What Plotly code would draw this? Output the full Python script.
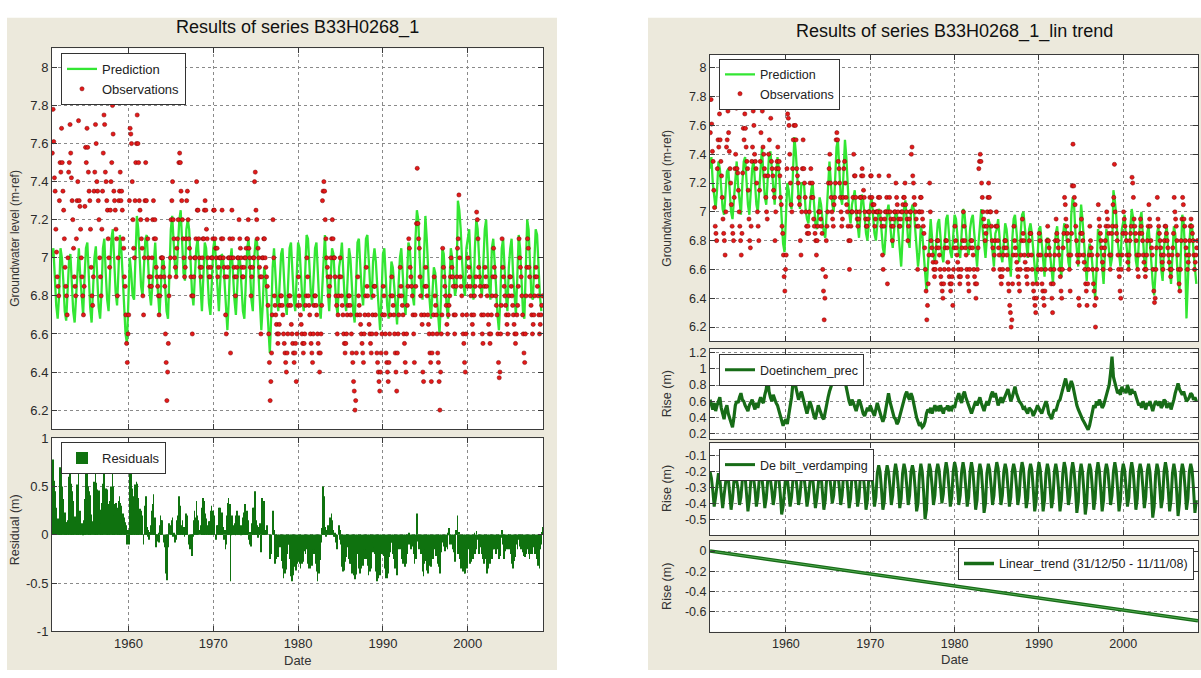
import plotly.graph_objects as go

W, H = 1201, 678
FONT = "Liberation Sans, Arial, sans-serif"

# ---------------- data ----------------
first_year = 1951
obs_per_year = 12        # one reading per month (mid-month)
model_per_year = 6       # model output every two months

# observed groundwater level (m-ref), 1951 .. Oct 2008
obs_values = [
    7.55, 7.78, 7.61, 7.42, 7.35, 7.15, 7.03, 6.90, 6.85, 6.80, 7.30, 7.50,  # 1951
    7.45, 7.68, 7.50, 7.35, 7.25, 7.10, 6.95, 6.85, 6.80, 6.70, 7.00, 7.45,  # 1952
    7.50, 7.70, 7.55, 7.42, 7.30, 7.20, 7.05, 6.90, 6.85, 6.80, 7.10, 7.30,  # 1953
    7.40, 7.72, 7.30, 7.27, 7.15, 7.00, 6.90, 6.80, 6.70, 6.85, 7.27, 7.58,  # 1954
    7.50, 7.68, 7.58, 7.45, 7.35, 7.30, 7.15, 6.95, 6.80, 6.75, 6.90, 7.35,  # 1955
    7.45, 7.70, 7.60, 7.40, 7.35, 7.30, 7.20, 7.00, 6.90, 6.80, 7.15, 7.35,  # 1956
    7.55, 7.75, 7.70, 7.45, 7.40, 7.30, 7.25, 7.10, 7.00, 6.95, 7.25, 7.40,  # 1957
    7.50, 7.80, 7.65, 7.35, 7.30, 7.25, 7.15, 7.10, 6.80, 7.00, 7.30, 7.35,  # 1958
    7.45, 7.30, 7.35, 7.25, 7.10, 7.05, 6.90, 6.85, 6.70, 6.55, 6.45, 6.60,  # 1959
    6.70, 7.30, 7.68, 7.65, 7.60, 7.40, 7.20, 7.05, 7.00, 7.30, 7.50, 7.60,  # 1960
    7.75, 7.60, 7.50, 7.30, 7.25, 7.20, 7.10, 7.05, 6.80, 6.70, 7.00, 7.30,  # 1961
    7.50, 7.30, 7.20, 7.10, 7.00, 6.90, 6.85, 6.90, 6.85, 7.00, 7.20, 7.30,  # 1962
    7.10, 7.20, 7.10, 6.95, 6.90, 6.85, 6.80, 6.70, 6.80, 6.90, 7.00, 7.00,  # 1963
    7.00, 6.95, 6.90, 6.85, 6.60, 6.45, 6.25, 6.40, 6.55, 6.80, 6.90, 7.00,  # 1964
    7.20, 7.30, 7.40, 7.20, 7.10, 7.00, 6.95, 6.90, 7.05, 7.10, 7.20, 7.50,  # 1965
    7.55, 7.50, 7.35, 7.30, 7.20, 7.10, 7.00, 6.90, 6.95, 7.10, 7.30, 7.35,  # 1966
    7.20, 7.10, 7.05, 7.00, 6.90, 6.80, 6.60, 6.80, 6.90, 7.00, 7.00, 7.10,  # 1967
    7.40, 7.25, 7.25, 7.10, 7.00, 6.95, 6.90, 6.95, 7.00, 7.10, 7.10, 7.25,  # 1968
    7.30, 7.25, 7.15, 7.10, 7.00, 6.95, 6.90, 6.90, 6.95, 7.00, 7.00, 7.10,  # 1969
    7.25, 7.25, 7.10, 7.05, 7.00, 7.05, 6.90, 6.95, 7.00, 7.00, 7.00, 7.10,  # 1970
    7.25, 7.10, 7.00, 6.95, 6.90, 6.70, 6.60, 6.90, 6.95, 7.00, 7.00, 7.10,  # 1971
    6.50, 7.00, 7.25, 7.10, 7.00, 6.95, 6.90, 6.80, 6.90, 6.95, 7.00, 7.00,  # 1972
    7.20, 7.10, 7.05, 7.00, 6.95, 6.90, 6.90, 6.95, 7.00, 7.00, 7.05, 7.10,  # 1973
    7.10, 7.20, 7.05, 7.00, 6.95, 6.80, 6.90, 6.95, 7.00, 7.00, 7.40, 7.45,  # 1974
    7.25, 7.20, 7.10, 7.05, 7.00, 6.95, 6.90, 6.60, 6.90, 7.00, 7.00, 7.10,  # 1975
    7.10, 7.00, 6.95, 6.90, 6.85, 6.75, 6.60, 6.45, 6.25, 6.35, 6.50, 6.70,  # 1976
    7.20, 7.00, 6.80, 6.75, 6.70, 6.65, 6.60, 6.55, 6.60, 6.65, 6.75, 6.80,  # 1977
    6.80, 6.75, 6.70, 6.60, 6.55, 6.50, 6.45, 6.40, 6.50, 6.60, 6.75, 6.80,  # 1978
    6.80, 6.75, 6.65, 6.60, 6.55, 6.50, 6.45, 6.50, 6.55, 6.35, 6.60, 6.75,  # 1979
    6.90, 6.80, 6.75, 6.70, 6.65, 6.60, 6.55, 6.50, 6.55, 6.60, 6.75, 6.80,  # 1980
    7.00, 6.90, 6.80, 6.75, 6.70, 6.60, 6.55, 6.50, 6.45, 6.60, 6.75, 6.80,  # 1981
    6.80, 6.75, 6.70, 6.60, 6.55, 6.50, 6.40, 6.50, 6.60, 6.75, 7.30, 7.35,  # 1982
    7.40, 7.35, 7.20, 7.10, 7.00, 6.95, 6.90, 6.80, 6.85, 6.90, 7.00, 7.10,  # 1983
    7.20, 7.10, 7.00, 7.00, 6.90, 6.80, 6.75, 6.60, 6.70, 6.80, 6.90, 7.00,  # 1984
    6.90, 6.80, 6.75, 6.70, 6.60, 6.55, 6.50, 6.55, 6.60, 6.70, 6.75, 6.80,  # 1985
    6.80, 6.75, 6.70, 6.60, 6.50, 6.45, 6.35, 6.30, 6.20, 6.25, 6.50, 6.70,  # 1986
    6.90, 6.80, 6.75, 6.70, 6.65, 6.60, 6.55, 6.50, 6.45, 6.60, 6.70, 6.80,  # 1987
    6.95, 6.85, 6.80, 6.70, 6.65, 6.60, 6.55, 6.50, 6.60, 6.70, 6.80, 6.85,  # 1988
    6.85, 6.70, 6.60, 6.50, 6.45, 6.40, 6.35, 6.30, 6.40, 6.50, 6.60, 6.70,  # 1989
    6.85, 6.80, 6.70, 6.60, 6.50, 6.45, 6.40, 6.35, 6.45, 6.60, 6.70, 6.80,  # 1990
    6.90, 6.80, 6.75, 6.70, 6.60, 6.50, 6.40, 6.30, 6.50, 6.60, 6.70, 6.80,  # 1991
    6.95, 6.85, 6.80, 6.75, 6.70, 6.60, 6.55, 6.45, 6.40, 6.60, 6.75, 6.85,  # 1992
    7.10, 7.05, 6.95, 6.90, 6.85, 6.80, 6.70, 6.60, 6.45, 6.70, 6.85, 7.18,  # 1993
    7.47, 7.18, 7.10, 7.05, 6.90, 6.80, 6.70, 6.65, 6.40, 6.35, 6.70, 6.85,  # 1994
    6.95, 6.85, 6.80, 6.70, 6.65, 6.60, 6.50, 6.45, 6.35, 6.50, 6.60, 6.70,  # 1995
    6.90, 6.80, 6.75, 6.70, 6.60, 6.50, 6.45, 6.35, 6.20, 6.40, 6.60, 6.70,  # 1996
    7.05, 6.95, 6.90, 6.85, 6.80, 6.75, 6.65, 6.60, 6.70, 6.75, 6.80, 6.90,  # 1997
    7.00, 6.95, 6.90, 6.85, 6.70, 6.60, 6.70, 6.85, 6.90, 7.05, 7.10, 7.33,  # 1998
    7.00, 6.90, 6.85, 6.80, 6.70, 6.60, 6.55, 6.45, 6.40, 6.60, 6.70, 6.85,  # 1999
    7.00, 6.95, 6.90, 6.85, 6.80, 6.70, 6.65, 6.60, 6.70, 6.80, 6.85, 6.90,  # 2000
    7.24, 7.20, 7.10, 6.95, 6.90, 6.85, 6.80, 6.70, 6.60, 6.55, 6.70, 6.85,  # 2001
    6.95, 6.90, 6.85, 6.80, 6.70, 6.65, 6.60, 6.55, 6.60, 6.70, 6.80, 6.90,  # 2002
    7.05, 6.95, 6.90, 6.80, 6.75, 6.70, 6.60, 6.45, 6.37, 6.40, 6.60, 6.75,  # 2003
    7.10, 6.95, 6.90, 6.85, 6.80, 6.75, 6.70, 6.65, 6.60, 6.70, 6.80, 6.90,  # 2004
    6.90, 6.85, 6.80, 6.75, 6.70, 6.65, 6.60, 6.55, 6.60, 6.70, 6.75, 6.85,  # 2005
    7.10, 7.00, 6.95, 6.90, 6.80, 6.70, 6.60, 6.50, 6.45, 6.60, 6.80, 6.95,  # 2006
    7.10, 7.05, 6.95, 6.90, 6.80, 6.75, 6.70, 6.60, 6.65, 6.70, 6.80, 6.90,  # 2007
    6.95, 6.90, 6.85, 6.80, 6.70, 6.60, 6.65, 6.70, 6.75, 6.80,              # 2008
]

# model without trend (left panel), Jan/Mar/May/Jul/Sep/Nov
pred_left = [
    7.00, 7.05, 6.90, 6.75, 6.68, 6.80,  # 1951
    7.05, 7.00, 6.88, 6.72, 6.67, 6.85,  # 1952
    6.98, 7.02, 6.85, 6.72, 6.66, 6.78,  # 1953
    6.95, 7.05, 6.90, 6.78, 6.70, 6.90,  # 1954
    7.05, 7.08, 6.90, 6.74, 6.66, 6.80,  # 1955
    7.00, 7.06, 6.88, 6.74, 6.68, 6.82,  # 1956
    7.05, 7.10, 6.92, 6.78, 6.72, 6.90,  # 1957
    7.10, 7.15, 6.98, 6.82, 6.75, 6.95,  # 1958
    7.12, 7.05, 6.88, 6.72, 6.60, 6.55,  # 1959
    6.80, 7.00, 6.92, 6.80, 6.78, 7.05,  # 1960
    7.22, 7.15, 6.98, 6.85, 6.80, 7.00,  # 1961
    7.10, 7.12, 6.95, 6.82, 6.75, 6.88,  # 1962
    7.02, 7.08, 6.92, 6.78, 6.70, 6.85,  # 1963
    7.00, 6.98, 6.85, 6.72, 6.68, 6.90,  # 1964
    7.15, 7.22, 7.08, 6.95, 6.90, 7.10,  # 1965
    7.20, 7.25, 7.05, 6.92, 6.88, 7.15,  # 1966
    7.20, 7.15, 6.98, 6.82, 6.75, 6.92,  # 1967
    7.05, 7.10, 6.95, 6.80, 6.72, 6.90,  # 1968
    7.08, 7.05, 6.90, 6.76, 6.70, 6.85,  # 1969
    7.05, 7.10, 6.95, 6.80, 6.72, 6.88,  # 1970
    7.02, 7.00, 6.85, 6.70, 6.62, 6.78,  # 1971
    6.98, 7.05, 6.90, 6.78, 6.70, 6.88,  # 1972
    7.00, 6.98, 6.85, 6.72, 6.68, 6.85,  # 1973
    7.05, 7.10, 6.92, 6.78, 6.72, 7.00,  # 1974
    7.10, 7.08, 6.92, 6.78, 6.62, 6.75,  # 1975
    6.95, 6.90, 6.75, 6.60, 6.50, 6.70,  # 1976
    6.95, 7.05, 6.90, 6.78, 6.72, 6.88,  # 1977
    7.02, 7.05, 6.90, 6.76, 6.70, 6.85,  # 1978
    7.05, 7.08, 6.92, 6.78, 6.72, 6.90,  # 1979
    7.08, 7.05, 6.90, 6.78, 6.72, 6.95,  # 1980
    7.12, 7.10, 6.95, 6.82, 6.75, 6.95,  # 1981
    7.05, 7.08, 6.90, 6.76, 6.68, 6.85,  # 1982
    7.00, 7.12, 6.95, 6.80, 6.72, 6.88,  # 1983
    7.05, 7.02, 6.88, 6.75, 6.70, 6.95,  # 1984
    7.00, 7.08, 6.92, 6.78, 6.72, 6.88,  # 1985
    7.05, 7.00, 6.85, 6.72, 6.66, 6.90,  # 1986
    7.08, 7.10, 6.95, 6.82, 6.75, 6.95,  # 1987
    7.10, 7.12, 6.98, 6.85, 6.78, 6.98,  # 1988
    7.05, 6.98, 6.85, 6.72, 6.62, 6.80,  # 1989
    7.02, 7.05, 6.90, 6.75, 6.68, 6.88,  # 1990
    6.98, 6.95, 6.85, 6.72, 6.65, 6.85,  # 1991
    7.00, 7.05, 6.90, 6.78, 6.70, 6.95,  # 1992
    7.08, 7.05, 6.92, 6.80, 6.75, 7.10,  # 1993
    7.25, 7.20, 7.00, 6.85, 6.78, 7.00,  # 1994
    7.22, 7.10, 6.92, 6.78, 6.68, 6.85,  # 1995
    6.95, 6.92, 6.80, 6.68, 6.60, 6.78,  # 1996
    7.05, 7.02, 6.88, 6.75, 6.68, 6.90,  # 1997
    7.05, 7.00, 6.88, 6.80, 6.85, 7.30,  # 1998
    7.25, 7.15, 6.98, 6.85, 6.80, 7.05,  # 1999
    7.10, 7.15, 6.98, 6.85, 6.78, 7.05,  # 2000
    7.20, 7.15, 6.98, 6.85, 6.80, 7.00,  # 2001
    7.15, 7.20, 7.00, 6.85, 6.78, 7.05,  # 2002
    7.10, 7.00, 6.85, 6.70, 6.62, 6.78,  # 2003
    7.05, 7.10, 6.92, 6.80, 6.72, 6.95,  # 2004
    7.05, 7.10, 6.92, 6.78, 6.70, 6.90,  # 2005
    7.12, 7.05, 6.88, 6.72, 6.68, 7.00,  # 2006
    7.20, 7.15, 6.95, 6.80, 6.78, 7.00,  # 2007
    7.15, 7.12, 6.95, 6.80, 6.72,        # 2008
]

# model with linear trend (right panel)
pred_right = [
    7.30, 7.38, 7.20, 7.08, 7.02, 7.15,  # 1951
    7.35, 7.30, 7.15, 7.02, 6.98, 7.18,  # 1952
    7.28, 7.30, 7.12, 7.00, 6.95, 7.08,  # 1953
    7.25, 7.35, 7.18, 7.05, 6.98, 7.20,  # 1954
    7.35, 7.38, 7.20, 7.05, 6.98, 7.12,  # 1955
    7.30, 7.36, 7.18, 7.05, 7.00, 7.15,  # 1956
    7.35, 7.45, 7.25, 7.10, 7.05, 7.22,  # 1957
    7.40, 7.42, 7.28, 7.12, 7.05, 7.25,  # 1958
    7.38, 7.30, 7.10, 6.95, 6.78, 6.72,  # 1959
    6.95, 7.20, 7.15, 7.05, 7.02, 7.30,  # 1960
    7.52, 7.42, 7.22, 7.10, 7.02, 7.20,  # 1961
    7.20, 7.18, 7.02, 6.95, 6.92, 7.05,  # 1962
    7.15, 7.20, 7.05, 6.92, 6.88, 7.00,  # 1963
    7.10, 7.05, 6.95, 6.85, 6.82, 7.00,  # 1964
    7.25, 7.35, 7.20, 7.05, 7.00, 7.20,  # 1965
    7.45, 7.50, 7.25, 7.10, 7.05, 7.30,  # 1966
    7.50, 7.38, 7.15, 7.00, 6.92, 7.05,  # 1967
    7.10, 7.15, 7.00, 6.88, 6.82, 6.98,  # 1968
    7.12, 7.08, 6.95, 6.85, 6.80, 6.92,  # 1969
    7.05, 7.10, 6.98, 6.85, 6.80, 6.92,  # 1970
    7.02, 7.00, 6.88, 6.75, 6.70, 6.82,  # 1971
    7.00, 7.05, 6.92, 6.82, 6.75, 6.90,  # 1972
    7.00, 6.98, 6.85, 6.72, 6.62, 6.82,  # 1973
    7.02, 7.08, 6.92, 6.80, 6.75, 7.00,  # 1974
    7.05, 7.02, 6.88, 6.75, 6.62, 6.72,  # 1975
    6.90, 6.85, 6.70, 6.55, 6.45, 6.62,  # 1976
    6.85, 6.95, 6.82, 6.70, 6.65, 6.80,  # 1977
    6.92, 6.95, 6.82, 6.70, 6.65, 6.78,  # 1978
    6.95, 6.98, 6.85, 6.72, 6.68, 6.82,  # 1979
    6.98, 6.95, 6.82, 6.72, 6.68, 6.88,  # 1980
    7.02, 7.00, 6.88, 6.75, 6.70, 6.88,  # 1981
    6.95, 6.98, 6.85, 6.72, 6.62, 6.78,  # 1982
    6.90, 7.02, 6.88, 6.75, 6.68, 6.82,  # 1983
    6.95, 6.92, 6.80, 6.68, 6.62, 6.85,  # 1984
    6.88, 6.95, 6.82, 6.70, 6.65, 6.80,  # 1985
    6.92, 6.88, 6.75, 6.62, 6.55, 6.80,  # 1986
    6.95, 6.98, 6.85, 6.72, 6.65, 6.85,  # 1987
    6.98, 7.00, 6.88, 6.75, 6.68, 6.88,  # 1988
    6.92, 6.85, 6.72, 6.60, 6.50, 6.68,  # 1989
    6.88, 6.90, 6.78, 6.62, 6.55, 6.75,  # 1990
    6.82, 6.80, 6.70, 6.58, 6.50, 6.72,  # 1991
    6.85, 6.90, 6.75, 6.62, 6.55, 6.82,  # 1992
    6.92, 6.90, 6.78, 6.65, 6.60, 6.98,  # 1993
    7.10, 7.05, 6.85, 6.70, 6.62, 6.85,  # 1994
    7.05, 6.95, 6.78, 6.62, 6.52, 6.70,  # 1995
    6.78, 6.75, 6.62, 6.50, 6.40, 6.60,  # 1996
    6.88, 6.85, 6.72, 6.58, 6.50, 6.72,  # 1997
    6.88, 6.82, 6.70, 6.62, 6.68, 7.15,  # 1998
    7.08, 6.98, 6.80, 6.68, 6.62, 6.88,  # 1999
    6.92, 6.98, 6.80, 6.68, 6.60, 6.88,  # 2000
    7.02, 6.96, 6.80, 6.66, 6.60, 6.82,  # 2001
    6.95, 7.00, 6.82, 6.66, 6.58, 6.85,  # 2002
    6.90, 6.80, 6.65, 6.50, 6.42, 6.58,  # 2003
    6.85, 6.90, 6.72, 6.60, 6.52, 6.75,  # 2004
    6.85, 6.90, 6.72, 6.58, 6.50, 6.70,  # 2005
    6.90, 6.85, 6.68, 6.52, 6.46, 6.80,  # 2006
    6.98, 6.92, 6.72, 6.26, 6.55, 6.78,  # 2007
    6.92, 6.90, 6.72, 6.58, 6.50,        # 2008
]

# rise due to precipitation Doetinchem (m)
prec_rise = [
    0.62, 0.55, 0.50, 0.58, 0.48, 0.55,  # 1951
    0.60, 0.65, 0.52, 0.45, 0.38, 0.50,  # 1952
    0.55, 0.45, 0.38, 0.32, 0.28, 0.40,  # 1953
    0.55, 0.60, 0.58, 0.65, 0.70, 0.62,  # 1954
    0.60, 0.55, 0.52, 0.48, 0.55, 0.60,  # 1955
    0.62, 0.55, 0.50, 0.58, 0.52, 0.60,  # 1956
    0.65, 0.60, 0.58, 0.68, 0.75, 0.90,  # 1957
    0.72, 0.65, 0.60, 0.68, 0.62, 0.58,  # 1958
    0.55, 0.48, 0.42, 0.35, 0.30, 0.35,  # 1959
    0.38, 0.32, 0.42, 0.55, 0.65, 0.82,  # 1960
    0.88, 0.78, 0.70, 0.62, 0.68, 0.72,  # 1961
    0.65, 0.58, 0.50, 0.45, 0.52, 0.60,  # 1962
    0.55, 0.48, 0.42, 0.38, 0.45, 0.55,  # 1963
    0.50, 0.45, 0.40, 0.38, 0.48, 0.60,  # 1964
    0.65, 0.72, 0.78, 0.85, 0.88, 0.92,  # 1965
    0.90, 0.85, 0.80, 0.85, 0.90, 0.92,  # 1966
    0.85, 0.75, 0.65, 0.60, 0.55, 0.62,  # 1967
    0.58, 0.52, 0.48, 0.55, 0.62, 0.58,  # 1968
    0.50, 0.45, 0.42, 0.48, 0.52, 0.48,  # 1969
    0.55, 0.50, 0.45, 0.42, 0.50, 0.58,  # 1970
    0.52, 0.45, 0.40, 0.35, 0.40, 0.50,  # 1971
    0.62, 0.70, 0.60, 0.52, 0.45, 0.40,  # 1972
    0.38, 0.32, 0.35, 0.42, 0.48, 0.55,  # 1973
    0.60, 0.68, 0.72, 0.65, 0.62, 0.70,  # 1974
    0.65, 0.55, 0.48, 0.40, 0.35, 0.30,  # 1975
    0.32, 0.28, 0.30, 0.35, 0.45, 0.50,  # 1976
    0.48, 0.52, 0.45, 0.50, 0.55, 0.50,  # 1977
    0.52, 0.48, 0.55, 0.50, 0.45, 0.52,  # 1978
    0.50, 0.55, 0.48, 0.52, 0.50, 0.55,  # 1979
    0.52, 0.60, 0.65, 0.70, 0.62, 0.58,  # 1980
    0.68, 0.72, 0.65, 0.60, 0.55, 0.50,  # 1981
    0.45, 0.50, 0.55, 0.60, 0.55, 0.62,  # 1982
    0.65, 0.58, 0.52, 0.48, 0.55, 0.60,  # 1983
    0.55, 0.62, 0.68, 0.72, 0.65, 0.70,  # 1984
    0.62, 0.55, 0.60, 0.65, 0.58, 0.62,  # 1985
    0.68, 0.72, 0.75, 0.68, 0.60, 0.65,  # 1986
    0.72, 0.78, 0.70, 0.65, 0.60, 0.58,  # 1987
    0.55, 0.50, 0.52, 0.48, 0.45, 0.52,  # 1988
    0.50, 0.48, 0.42, 0.45, 0.50, 0.55,  # 1989
    0.52, 0.48, 0.45, 0.50, 0.55, 0.60,  # 1990
    0.55, 0.45, 0.42, 0.38, 0.45, 0.50,  # 1991
    0.48, 0.55, 0.60, 0.62, 0.70, 0.78,  # 1992
    0.82, 0.88, 0.80, 0.72, 0.78, 0.85,  # 1993
    0.80, 0.70, 0.62, 0.55, 0.50, 0.45,  # 1994
    0.42, 0.38, 0.35, 0.32, 0.28, 0.25,  # 1995
    0.30, 0.40, 0.50, 0.55, 0.52, 0.60,  # 1996
    0.55, 0.62, 0.58, 0.52, 0.55, 0.62,  # 1997
    0.65, 0.72, 0.80, 0.95, 1.15, 0.90,  # 1998
    0.82, 0.75, 0.70, 0.72, 0.68, 0.78,  # 1999
    0.72, 0.75, 0.70, 0.80, 0.72, 0.68,  # 2000
    0.75, 0.70, 0.72, 0.65, 0.60, 0.55,  # 2001
    0.58, 0.52, 0.60, 0.55, 0.50, 0.58,  # 2002
    0.55, 0.60, 0.52, 0.48, 0.55, 0.60,  # 2003
    0.58, 0.55, 0.60, 0.52, 0.55, 0.62,  # 2004
    0.60, 0.52, 0.55, 0.58, 0.50, 0.55,  # 2005
    0.62, 0.70, 0.78, 0.82, 0.75, 0.70,  # 2006
    0.68, 0.72, 0.65, 0.60, 0.62, 0.65,  # 2007
    0.70, 0.68, 0.62, 0.65, 0.60,        # 2008
]

# rise due to evaporation De Bilt (m)
evap_rise = [
    -0.20, -0.24, -0.32, -0.42, -0.36, -0.26,  # 1951
    -0.21, -0.25, -0.33, -0.43, -0.35, -0.25,  # 1952
    -0.20, -0.24, -0.32, -0.44, -0.37, -0.26,  # 1953
    -0.21, -0.25, -0.31, -0.41, -0.36, -0.25,  # 1954
    -0.20, -0.23, -0.33, -0.45, -0.38, -0.26,  # 1955
    -0.21, -0.24, -0.31, -0.42, -0.36, -0.25,  # 1956
    -0.20, -0.24, -0.33, -0.43, -0.37, -0.26,  # 1957
    -0.21, -0.25, -0.32, -0.41, -0.35, -0.24,  # 1958
    -0.20, -0.24, -0.34, -0.47, -0.42, -0.28,  # 1959
    -0.21, -0.24, -0.32, -0.42, -0.36, -0.25,  # 1960
    -0.20, -0.23, -0.31, -0.41, -0.35, -0.24,  # 1961
    -0.20, -0.24, -0.32, -0.42, -0.36, -0.25,  # 1962
    -0.19, -0.23, -0.32, -0.43, -0.37, -0.25,  # 1963
    -0.19, -0.22, -0.31, -0.44, -0.38, -0.24,  # 1964
    -0.18, -0.22, -0.30, -0.40, -0.35, -0.23,  # 1965
    -0.18, -0.21, -0.30, -0.41, -0.35, -0.22,  # 1966
    -0.17, -0.21, -0.31, -0.43, -0.37, -0.23,  # 1967
    -0.17, -0.21, -0.30, -0.42, -0.36, -0.22,  # 1968
    -0.17, -0.22, -0.31, -0.44, -0.38, -0.23,  # 1969
    -0.16, -0.20, -0.30, -0.42, -0.36, -0.21,  # 1970
    -0.16, -0.20, -0.31, -0.44, -0.39, -0.22,  # 1971
    -0.16, -0.20, -0.29, -0.41, -0.35, -0.21,  # 1972
    -0.15, -0.20, -0.30, -0.43, -0.37, -0.21,  # 1973
    -0.15, -0.19, -0.29, -0.41, -0.35, -0.20,  # 1974
    -0.16, -0.20, -0.31, -0.45, -0.40, -0.22,  # 1975
    -0.15, -0.20, -0.33, -0.50, -0.44, -0.24,  # 1976
    -0.15, -0.19, -0.29, -0.41, -0.35, -0.20,  # 1977
    -0.15, -0.19, -0.29, -0.40, -0.34, -0.20,  # 1978
    -0.14, -0.19, -0.30, -0.42, -0.36, -0.20,  # 1979
    -0.14, -0.18, -0.29, -0.41, -0.35, -0.20,  # 1980
    -0.14, -0.19, -0.30, -0.42, -0.36, -0.20,  # 1981
    -0.14, -0.19, -0.31, -0.44, -0.38, -0.21,  # 1982
    -0.15, -0.19, -0.31, -0.46, -0.40, -0.21,  # 1983
    -0.15, -0.19, -0.29, -0.41, -0.35, -0.20,  # 1984
    -0.14, -0.18, -0.29, -0.41, -0.35, -0.20,  # 1985
    -0.15, -0.19, -0.30, -0.42, -0.36, -0.20,  # 1986
    -0.15, -0.19, -0.29, -0.41, -0.35, -0.20,  # 1987
    -0.14, -0.18, -0.30, -0.43, -0.37, -0.20,  # 1988
    -0.15, -0.19, -0.31, -0.45, -0.39, -0.21,  # 1989
    -0.14, -0.19, -0.31, -0.45, -0.38, -0.21,  # 1990
    -0.15, -0.19, -0.30, -0.43, -0.37, -0.20,  # 1991
    -0.15, -0.20, -0.31, -0.45, -0.38, -0.21,  # 1992
    -0.14, -0.18, -0.29, -0.41, -0.35, -0.20,  # 1993
    -0.14, -0.19, -0.31, -0.46, -0.39, -0.21,  # 1994
    -0.15, -0.20, -0.32, -0.47, -0.40, -0.21,  # 1995
    -0.15, -0.19, -0.30, -0.44, -0.37, -0.20,  # 1996
    -0.14, -0.19, -0.31, -0.45, -0.38, -0.20,  # 1997
    -0.15, -0.19, -0.29, -0.41, -0.35, -0.20,  # 1998
    -0.14, -0.19, -0.31, -0.45, -0.38, -0.21,  # 1999
    -0.15, -0.19, -0.30, -0.42, -0.36, -0.20,  # 2000
    -0.14, -0.19, -0.31, -0.44, -0.37, -0.20,  # 2001
    -0.15, -0.19, -0.30, -0.43, -0.36, -0.20,  # 2002
    -0.15, -0.20, -0.33, -0.49, -0.42, -0.22,  # 2003
    -0.15, -0.19, -0.30, -0.43, -0.37, -0.20,  # 2004
    -0.14, -0.19, -0.31, -0.45, -0.38, -0.21,  # 2005
    -0.15, -0.20, -0.32, -0.48, -0.40, -0.21,  # 2006
    -0.15, -0.19, -0.30, -0.44, -0.37, -0.20,  # 2007
    -0.15, -0.19, -0.31, -0.46, -0.38,         # 2008
]

# linear trend (31/12/50 - 11/11/08)
trend_dates = ["1950-12-31", "2008-11-11"]
trend_rise = [0.0, -0.69]

x_range = ["1950-12-31", "2008-11-11"]
x_tick_vals = ["1960-01-01", "1970-01-01", "1980-01-01", "1990-01-01", "2000-01-01"]
x_tick_text = ["1960", "1970", "1980", "1990", "2000"]
gw_tick_vals = [6.2, 6.4, 6.6, 6.8, 7.0, 7.2, 7.4, 7.6, 7.8, 8.0]
gw_tick_text = ["6.2", "6.4", "6.6", "6.8", "7", "7.2", "7.4", "7.6", "7.8", "8"]
res_tick_vals = [-1, -0.5, 0, 0.5, 1]
res_tick_text = ["-1", "-0.5", "0", "0.5", "1"]
prec_tick_vals = [0.2, 0.4, 0.6, 0.8, 1.0, 1.2]
prec_tick_text = ["0.2", "0.4", "0.6", "0.8", "1", "1.2"]
evap_tick_vals = [-0.5, -0.4, -0.3, -0.2, -0.1]
evap_tick_text = ["-0.5", "-0.4", "-0.3", "-0.2", "-0.1"]
trend_tick_vals = [-0.6, -0.4, -0.2, 0.0]
trend_tick_text = ["-0.6", "-0.4", "-0.2", "0"]

# ---------------- derived dates / residuals ----------------
obs_dates = []
residuals = []
for i, v in enumerate(obs_values):
    yr = first_year + i // obs_per_year
    mo = i % obs_per_year + 1
    obs_dates.append(f"{yr}-{mo:02d}-15")
    k = min((i // obs_per_year) * model_per_year + (mo - 1) // 2, len(pred_left) - 1)
    residuals.append(round(v - pred_left[k], 3))

def model_dates(n):
    out = []
    for i in range(n):
        yr = first_year + i // model_per_year
        mo = 1 + 2 * (i % model_per_year)
        out.append(f"{yr}-{mo:02d}-01")
    return out

# ---------------- styling ----------------
GREEN_PRED = "#33e633"
RED_OBS = "#e31a1a"
DARK_GREEN = "#0f720f"
RISE_GREEN = "#176c17"
AXIS_C = "#3a3a3a"
GRID_C = "#8a8a8a"

def px_x(a, b):
    return [a / W, b / W]

def px_y(top, bottom):
    return [1 - bottom / H, 1 - top / H]

fig = go.Figure()

obs_marker = dict(size=4.2, color=RED_OBS, line=dict(width=0.5, color="#7a0000"))

# left panel
fig.add_trace(go.Scatter(x=model_dates(len(pred_left)), y=pred_left, mode="lines",
                         line=dict(color=GREEN_PRED, width=2.3), name="Prediction",
                         xaxis="x", yaxis="y", legend="legend"))
fig.add_trace(go.Scatter(x=obs_dates, y=obs_values, mode="markers", marker=obs_marker,
                         name="Observations", xaxis="x", yaxis="y", legend="legend"))
fig.add_trace(go.Bar(x=obs_dates, y=residuals, width=30 * 86400000,
                     marker=dict(color=DARK_GREEN, line=dict(width=0)),
                     name="Residuals", xaxis="x2", yaxis="y2", legend="legend2"))

# right panel
fig.add_trace(go.Scatter(x=model_dates(len(pred_right)), y=pred_right, mode="lines",
                         line=dict(color=GREEN_PRED, width=2.3), name="Prediction",
                         xaxis="x3", yaxis="y3", legend="legend3"))
fig.add_trace(go.Scatter(x=obs_dates, y=obs_values, mode="markers", marker=obs_marker,
                         name="Observations", xaxis="x3", yaxis="y3", legend="legend3"))
fig.add_trace(go.Scatter(x=model_dates(len(prec_rise)), y=prec_rise, mode="lines",
                         line=dict(color=RISE_GREEN, width=3.2), name="Doetinchem_prec",
                         xaxis="x4", yaxis="y4", legend="legend4"))
fig.add_trace(go.Scatter(x=model_dates(len(evap_rise)), y=evap_rise, mode="lines",
                         line=dict(color=RISE_GREEN, width=3), name="De bilt_verdamping",
                         xaxis="x5", yaxis="y5", legend="legend5"))
fig.add_trace(go.Scatter(x=trend_dates, y=trend_rise, mode="lines",
                         line=dict(color=RISE_GREEN, width=3.5),
                         name="Linear_trend (31/12/50 - 11/11/08)",
                         xaxis="x6", yaxis="y6", legend="legend6"))
fig.add_trace(go.Scatter(x=trend_dates, y=trend_rise, mode="lines",
                         line=dict(color="#4fa84f", width=1), showlegend=False,
                         xaxis="x6", yaxis="y6"))

# axes geometry (pixels)
boxes = {
    1: dict(x=(52, 543), y=(42.3, 431.7)),
    2: dict(x=(52, 543), y=(441, 638.5)),
    3: dict(x=(710, 1198), y=(49, 342)),
    4: dict(x=(710, 1198), y=(350, 441.5)),
    5: dict(x=(710, 1198), y=(446, 540)),
    6: dict(x=(710, 1198), y=(546, 639)),
}
y_specs = {
    1: ([6.1, 8.1], gw_tick_vals, gw_tick_text, 13),
    2: ([-1, 1], res_tick_vals, res_tick_text, 13),
    3: ([6.1, 8.09], gw_tick_vals, gw_tick_text, 12.5),
    4: ([0.14, 1.24], prec_tick_vals, prec_tick_text, 12.5),
    5: ([-0.6, -0.02], evap_tick_vals, evap_tick_text, 12.5),
    6: ([-0.8, 0.1], trend_tick_vals, trend_tick_text, 12.5),
}
bottom_axes = {2, 6}

layout_axes = {}
for i, b in boxes.items():
    xs = "xaxis" if i == 1 else f"xaxis{i}"
    ys = "yaxis" if i == 1 else f"yaxis{i}"
    xa = "x" if i == 1 else f"x{i}"
    ya = "y" if i == 1 else f"y{i}"
    rng, tv, tt, fs = y_specs[i]
    common = dict(showline=True, linecolor=AXIS_C, linewidth=1, mirror="allticks",
                  ticks="inside", ticklen=5, tickcolor=AXIS_C, showgrid=True,
                  gridcolor=GRID_C, griddash="dot", gridwidth=1, zeroline=False,
                  tickfont=dict(family=FONT, size=fs, color="#2a2a2a"))
    layout_axes[xs] = dict(common, type="date", range=x_range, domain=px_x(*b["x"]),
                           anchor=ya, tickvals=x_tick_vals, ticktext=x_tick_text,
                           showticklabels=(i in bottom_axes))
    layout_axes[ys] = dict(common, range=rng, domain=px_y(*b["y"]), anchor=xa,
                           tickvals=tv, ticktext=tt)

shapes = [
    dict(type="rect", xref="paper", yref="paper", x0=7 / W, x1=557 / W, y0=0, y1=1 - 11 / H,
         fillcolor="#ece9dc", line=dict(width=0), layer="below"),
    dict(type="rect", xref="paper", yref="paper", x0=648 / W, x1=1, y0=0, y1=1 - 11 / H,
         fillcolor="#ece9dc", line=dict(width=0), layer="below"),
]
for b in boxes.values():
    shapes.append(dict(type="rect", xref="paper", yref="paper",
                       x0=b["x"][0] / W, x1=b["x"][1] / W,
                       y0=1 - b["y"][1] / H, y1=1 - b["y"][0] / H,
                       fillcolor="white", line=dict(width=0), layer="below"))

def ann(text, xpx, ypx, size, angle=0, color="#1a1a1a"):
    return dict(text=text, x=xpx / W, y=1 - ypx / H, xref="paper", yref="paper",
                showarrow=False, textangle=angle, xanchor="center", yanchor="middle",
                font=dict(family=FONT, size=size, color=color))

annotations = [
    ann("Results of series B33H0268_1", 297.5, 21, 18, color="#111"),
    ann("Results of series B33H0268_1_lin trend", 954, 25, 18, color="#111"),
    ann("Groundwater level (m-ref)", 15, 237, 12, -90, "#333"),
    ann("Residual (m)", 15, 535, 12.5, -90, "#333"),
    ann("Date", 297.5, 668, 13, 0, "#333"),
    ann("Groundwater level (m-ref)", 667, 196, 12, -90, "#333"),
    ann("Rise (m)", 667, 396, 12.5, -90, "#333"),
    ann("Rise (m)", 667, 493, 12.5, -90, "#333"),
    ann("Rise (m)", 667, 593, 12.5, -90, "#333"),
    ann("Date", 954, 667, 13, 0, "#333"),
]

def legend_box(xpx, ypx, xanchor="left", size=13):
    return dict(x=xpx / W, y=1 - ypx / H, xref="paper", yref="paper",
                xanchor=xanchor, yanchor="top", bgcolor="white",
                bordercolor="#333", borderwidth=1,
                font=dict(family=FONT, size=size, color="#222"),
                tracegroupgap=0, itemsizing="trace")

fig.update_layout(
    width=W, height=H, autosize=False,
    margin=dict(l=0, r=0, t=0, b=0),
    paper_bgcolor="white", plot_bgcolor="rgba(0,0,0,0)",
    font=dict(family=FONT, size=13, color="#222"),
    shapes=shapes, annotations=annotations,
    legend=legend_box(61, 47),
    legend2=legend_box(61, 445),
    legend3=legend_box(719, 53, size=12.5),
    legend4=legend_box(719, 355, size=12.5),
    legend5=legend_box(719, 452, size=12.5),
    legend6=legend_box(1194, 553, xanchor="right", size=12.5),
    hovermode=False,
    **layout_axes,
)

fig.write_html("out.html")
